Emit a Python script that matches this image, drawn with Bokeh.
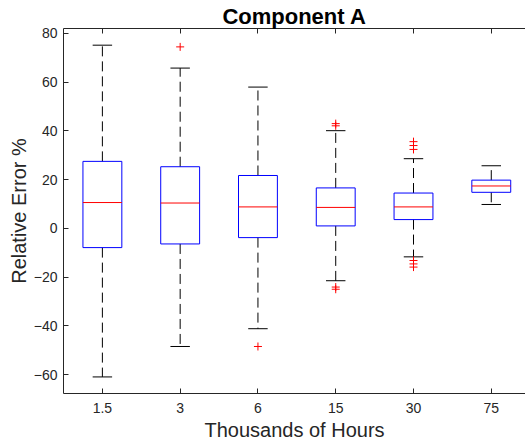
from bokeh.plotting import figure
from bokeh.models import ColumnDataSource, FixedTicker, LinearAxis, Range1d
from bokeh.embed import file_html
from bokeh.resources import INLINE

# Operating time groups (thousands of hours)
categories = ["1.5", "3", "6", "15", "30", "75"]

# Box statistics of the relative error (%) for each group
whisker_low = [-61.0, -48.5, -41.2, -21.5, -11.7, 9.8]
quartile_1 = [-7.9, -6.4, -3.8, 1.0, 3.6, 14.8]
median = [10.6, 10.4, 8.8, 8.6, 8.8, 17.4]
quartile_3 = [27.5, 25.3, 21.7, 16.6, 14.5, 19.8]
whisker_high = [75.2, 65.8, 58.0, 40.1, 28.6, 25.7]

# Outlying observations: group label and value
outlier_group = ["3", "6", "15", "15", "15", "15", "30", "30", "30", "30", "30", "30"]
outlier_value = [74.5, -48.5, 43.0, 42.1, -24.1, -25.0, 35.6, 34.0, 32.4, -13.2, -14.6, -15.9]

y_ticks = [-60, -40, -20, 0, 20, 40, 60, 80]

TEXT = "#262626"
FONT = "Liberation Sans"
BOX_W = 0.5
CAP_W = 0.25

pos = [i + 1 for i in range(len(categories))]
box_src = ColumnDataSource(dict(
    x=pos,
    left=[x - BOX_W / 2 for x in pos],
    right=[x + BOX_W / 2 for x in pos],
    cap_l=[x - CAP_W / 2 for x in pos],
    cap_r=[x + CAP_W / 2 for x in pos],
    lo=whisker_low, q1=quartile_1, med=median, q3=quartile_3, hi=whisker_high,
))
out_src = ColumnDataSource(dict(
    x=[categories.index(g) + 1 for g in outlier_group],
    y=outlier_value,
))

p = figure(width=525, height=448, output_backend="svg", toolbar_location=None,
           x_range=Range1d(0.5, 6.44), y_range=Range1d(-67.8, 82.05),
           min_border_left=63, min_border_right=0, min_border_top=27,
           min_border_bottom=55, background_fill_color="white",
           border_fill_color="white")
p.outline_line_color = None
p.xgrid.visible = False
p.ygrid.visible = False

# whiskers (dashed) and caps
p.segment(x0="x", y0="q3", x1="x", y1="hi", source=box_src,
          line_color="black", line_width=1, line_dash="10 5")
p.segment(x0="x", y0="q1", x1="x", y1="lo", source=box_src,
          line_color="black", line_width=1, line_dash="10 5")
p.segment(x0="cap_l", y0="hi", x1="cap_r", y1="hi", source=box_src,
          line_color="black", line_width=1)
p.segment(x0="cap_l", y0="lo", x1="cap_r", y1="lo", source=box_src,
          line_color="black", line_width=1)

# interquartile boxes and medians
p.quad(left="left", right="right", bottom="q1", top="q3", source=box_src,
       fill_alpha=0, line_color="#0000ff", line_width=1)
p.segment(x0="left", y0="med", x1="right", y1="med", source=box_src,
          line_color="#ff0000", line_width=1)

# outliers
p.scatter(x="x", y="y", source=out_src, marker="cross", size=8,
          line_color="#ff0000", line_width=1)

# axes
xa = p.xaxis[0]
xa.ticker = FixedTicker(ticks=pos)
xa.major_label_overrides = {x: c for x, c in zip(pos, categories)}
xa.axis_label = "Thousands of Hours"
xa.major_label_standoff = 9
xa.axis_label_standoff = 3

ya = p.yaxis[0]
ya.ticker = FixedTicker(ticks=y_ticks)
ya.axis_label = "Relative Error %"
ya.major_label_standoff = 6
ya.axis_label_standoff = 1

for ax in (xa, ya):
    ax.major_tick_in = 5
    ax.major_tick_out = 0
    ax.minor_tick_line_color = None
    ax.axis_line_color = TEXT
    ax.major_tick_line_color = TEXT
    ax.major_label_text_color = TEXT
    ax.major_label_text_font = FONT
    ax.major_label_text_font_size = "14px"
    ax.axis_label_text_color = TEXT
    ax.axis_label_text_font = FONT
    ax.axis_label_text_font_size = "20px"
    ax.axis_label_text_font_style = "normal"

# top edge with inward ticks; its axis label carries the chart title
top = LinearAxis(ticker=FixedTicker(ticks=pos), major_tick_in=5, major_tick_out=0,
                 minor_tick_line_color=None, axis_line_color=TEXT,
                 major_tick_line_color=TEXT,
                 major_label_overrides={x: "" for x in pos},
                 major_label_text_font_size="1px", major_label_standoff=0,
                 axis_label="Component A", axis_label_standoff=0,
                 axis_label_text_font=FONT, axis_label_text_font_size="22px",
                 axis_label_text_font_style="bold", axis_label_text_color="black")
p.add_layout(top, "above")

open("out.html", "w").write(file_html(p, INLINE))
